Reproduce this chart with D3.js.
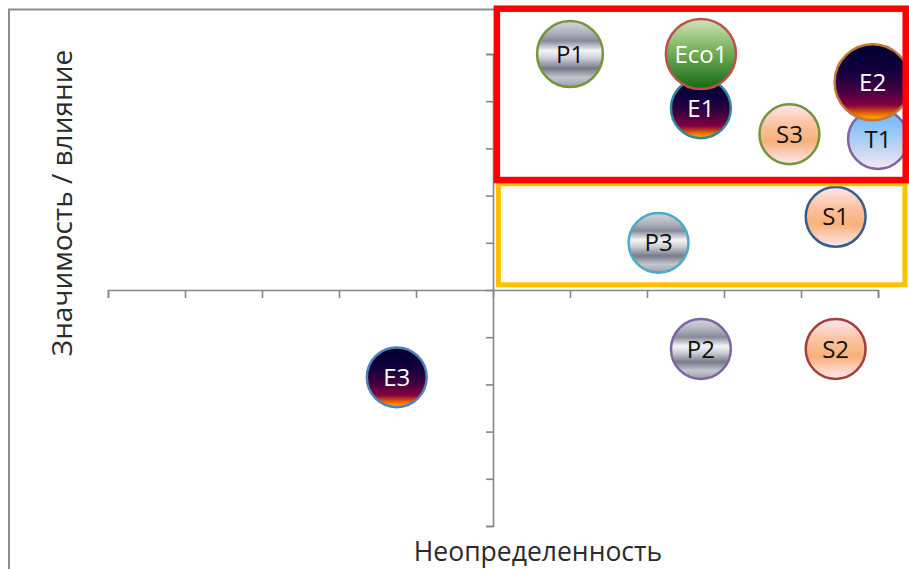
<!DOCTYPE html>
<html>
<meta charset="utf-8">
<head>
<title>Значимость / неопределенность</title>
<style>
body {
    margin: 0;
    background: #fff;
    font-family: "Open Sans", "Noto Sans", sans-serif;
}
.axis path,
.axis line {
    fill: none;
    stroke: #868686;
    stroke-width: 1.6;
}
.titulo {
    fill: #2b2b2b;
}
.etiqueta {
    font-size: 24px;
}
</style>
</head>
<body>
<div id="grafico"></div>
<script src="https://d3js.org/d3.v7.min.js"></script>
<script>
// datos (orden = orden de dibujo)
var nombres        = ["P1", "E1", "Eco1", "S3", "T1", "E2", "S1", "P3", "P2", "S2", "E3"];
var incertidumbre  = [1, 2.7, 2.7, 3.85, 5, 4.93, 4.45, 2.15, 2.7, 4.45, -1.25];
var importancia    = [5, 3.85, 5, 3.3, 3.2, 4.4, 1.55, 1, -1.25, -1.25, -1.85];
var tamano         = [7.5, 6.2, 8.5, 6.2, 6.2, 10, 6.2, 6.2, 6.2, 6.2, 6.2];
var marcas         = [-5, -4, -3, -2, -1, 0, 1, 2, 3, 4, 5];

// zonas resaltadas [x0, x1, y0, y1] en unidades del grafico
var zonaRoja     = [0.05, 5.36, 2.33, 5.96];
var zonaAmarilla = [0.07, 5.35, 0.11, 2.25];

// estilo por burbuja: gradiente, borde, color de texto
var estilo = {
    "P1":   ["cromo",  "#77933c", "#111"],
    "P2":   ["cromo",  "#8064a2", "#111"],
    "P3":   ["cromo",  "#4bacc6", "#111"],
    "E1":   ["ocaso",  "#31859c", "#fff"],
    "E2":   ["ocaso",  "#c0783a", "#fff"],
    "E3":   ["ocaso",  "#4f81bd", "#fff"],
    "Eco1": ["verde",  "#c0504d", "#fff"],
    "S1":   ["durazno","#385d8a", "#111"],
    "S2":   ["durazno","#a0403d", "#111"],
    "S3":   ["durazno","#77933c", "#111"],
    "T1":   ["azul",   "#8064a2", "#111"]
};

var gradientes = {
    cromo:   [[0, "#d5d7df"], [0.18, "#aeb1bd"], [0.3, "#878a99"], [0.45, "#f4f4f7"], [0.56, "#cdd0d8"], [0.72, "#777a8a"], [0.86, "#c4c6cf"], [1, "#9b9eaa"]],
    ocaso:   [[0, "#00002e"], [0.35, "#12003e"], [0.6, "#400040"], [0.8, "#860040"], [0.92, "#f07000"], [1, "#ffbe00"]],
    verde:   [[0, "#cfe5bb"], [0.45, "#78b05a"], [1, "#146a14"]],
    durazno: [[0, "#fde6f0"], [0.35, "#fbc29e"], [0.62, "#f9b07a"], [1, "#fde8f0"]],
    azul:    [[0, "#66b2ff"], [0.5, "#a8cdf2"], [1, "#f3e8f5"]]
};

var width = 909, height = 569;

var svg = d3.select("#grafico").append("svg")
    .attr("width", width)
    .attr("height", height);

var defs = svg.append("defs");
Object.keys(gradientes).forEach(function(k) {
    var g = defs.append("linearGradient")
        .attr("id", "g-" + k)
        .attr("x1", 0).attr("y1", 0).attr("x2", 0).attr("y2", 1);
    gradientes[k].forEach(function(s) {
        g.append("stop").attr("offset", s[0]).attr("stop-color", s[1]);
    });
});

// marco del area del grafico
svg.append("rect")
    .attr("x", 9)
    .attr("y", 9.5)
    .attr("width", width + 20)
    .attr("height", height + 20)
    .attr("fill", "none")
    .attr("stroke", "#8c8c8c")
    .attr("stroke-width", 2);

var x = d3.scaleLinear().domain([-5, 5]).range([108, 878]);
var y = d3.scaleLinear().domain([-5, 5]).range([526, 54]);
var r = d3.scaleSqrt().domain([0, 10]).range([0, 38]);

var xAxis = d3.axisBottom(x).tickValues(marcas).tickSize(8).tickFormat("");
var yAxis = d3.axisLeft(y).tickValues(marcas).tickSize(7).tickFormat("");

svg.append("g")
    .attr("class", "x axis")
    .attr("transform", "translate(0," + y(0) + ")")
    .call(xAxis);

svg.append("g")
    .attr("class", "y axis")
    .attr("transform", "translate(" + x(0) + ",0)")
    .call(yAxis);

// burbujas
var datos = nombres.map(function(n, i) {
    return { nombre: n, x: incertidumbre[i], y: importancia[i], t: tamano[i] };
});

var burbuja = svg.selectAll(".burbuja")
    .data(datos)
  .enter().append("g")
    .attr("class", "burbuja")
    .attr("transform", function(d) { return "translate(" + x(d.x) + "," + y(d.y) + ")"; });

burbuja.append("circle")
    .attr("r", function(d) { return r(d.t); })
    .attr("fill", function(d) { return "url(#g-" + estilo[d.nombre][0] + ")"; })
    .attr("stroke", function(d) { return estilo[d.nombre][1]; })
    .attr("stroke-width", 2.5);

burbuja.append("text")
    .attr("class", "etiqueta")
    .attr("text-anchor", "middle")
    .attr("dy", "0.36em")
    .attr("fill", function(d) { return estilo[d.nombre][2]; })
    .text(function(d) { return d.nombre; });

// zonas (encima de las burbujas)
function zona(z, color, grosor) {
    svg.append("rect")
        .attr("x", x(z[0]))
        .attr("y", y(z[3]))
        .attr("width", x(z[1]) - x(z[0]))
        .attr("height", y(z[2]) - y(z[3]))
        .attr("fill", "none")
        .attr("stroke", color)
        .attr("stroke-width", grosor);
}
zona(zonaAmarilla, "#ffc000", 5);
zona(zonaRoja, "#ff0000", 6.5);

// titulos de ejes
svg.append("text")
    .attr("class", "titulo")
    .style("font-size", "26.5px")
    .attr("x", 538)
    .attr("y", 561)
    .attr("text-anchor", "middle")
    .text("Неопределенность");

svg.append("text")
    .attr("class", "titulo")
    .style("font-size", "28px")
    .attr("transform", "translate(72,203) rotate(-90)")
    .attr("text-anchor", "middle")
    .text("Значимость / влияние");
</script>
</body>
</html>
